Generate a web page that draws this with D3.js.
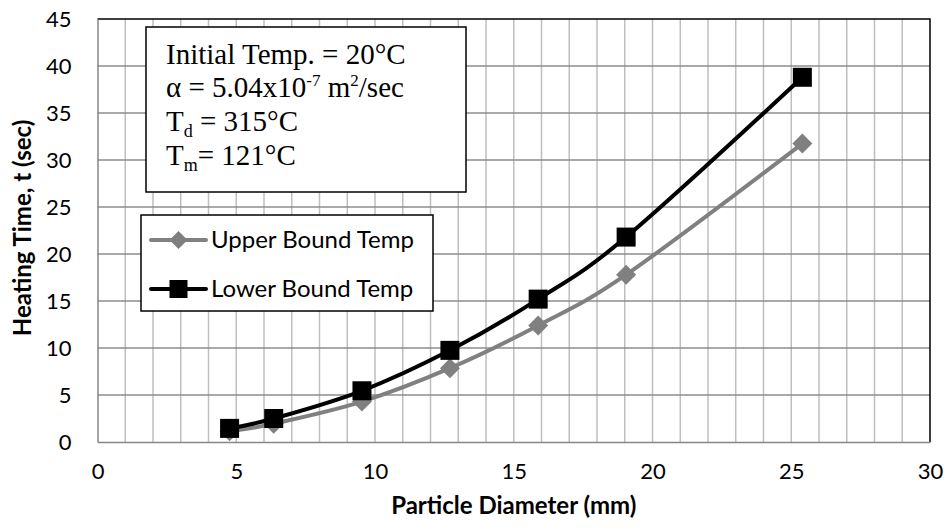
<!DOCTYPE html>
<html>
<head>
<meta charset="utf-8">
<script src="https://cdn.jsdelivr.net/npm/d3@7"></script>
<style>
  html, body { margin: 0; padding: 0; background: #fff; }
  svg { display: block; }
</style>
</head>
<body>
<svg id="chart" width="946" height="532"></svg>
<script>
// Particle diameters (mm) and heating times (s)
const diameters = [4.76, 6.35, 9.53, 12.7, 15.88, 19.05, 25.4];
const upperBound = [1.15, 1.95, 4.3, 7.85, 12.4, 17.8, 31.75];
const lowerBound = [1.45, 2.5, 5.45, 9.75, 15.2, 21.8, 38.8];
const xTicks = [0, 5, 10, 15, 20, 25, 30];
const yTicks = [0, 5, 10, 15, 20, 25, 30, 35, 40, 45];
const seriesNames = ["Upper Bound Temp", "Lower Bound Temp"];

const svg = d3.select("#chart");
const plotL = 97.5, plotR = 930, plotT = 19, plotB = 442;

const x = d3.scaleLinear().domain([0, 30]).range([plotL, plotR]);
const y = d3.scaleLinear().domain([0, 45]).range([plotB, plotT]);

const sans = "Lato, 'Open Sans', sans-serif";

// minor vertical grid every 1 mm
svg.append("g").selectAll("line")
  .data(d3.range(1, 30))
  .join("line")
  .attr("x1", d => x(d)).attr("x2", d => x(d))
  .attr("y1", plotT).attr("y2", plotB)
  .attr("stroke", "#bfbfbf").attr("stroke-width", 1.5);

// horizontal grid
svg.append("g").selectAll("line")
  .data(yTicks.slice(1, -1))
  .join("line")
  .attr("x1", plotL).attr("x2", plotR)
  .attr("y1", d => y(d)).attr("y2", d => y(d))
  .attr("stroke", "#8c8c8c").attr("stroke-width", 1.5);

// plot frame: top and right
svg.append("path")
  .attr("d", `M${plotL},${plotT}H${plotR}V${plotB}`)
  .attr("fill", "none").attr("stroke", "#000").attr("stroke-width", 1.5);

// axes
const xAxis = svg.append("g").attr("transform", `translate(0,${plotB})`)
  .call(d3.axisBottom(x).tickValues(xTicks).tickSize(0).tickPadding(21));
const yAxis = svg.append("g").attr("transform", `translate(${plotL},0)`)
  .call(d3.axisLeft(y).tickValues(yTicks).tickSize(0).tickPadding(26));
[xAxis, yAxis].forEach(g => {
  g.select(".domain").attr("stroke", "#868686").attr("stroke-width", 1.5);
  g.selectAll("text").attr("font-family", sans).attr("font-size", 22).attr("fill", "#000");
});
xAxis.selectAll("text").attr("dy", "0.71em");

// axis titles
svg.append("text")
  .attr("x", (plotL + plotR) / 2).attr("y", 514)
  .attr("text-anchor", "middle")
  .attr("font-family", sans).attr("font-weight", "bold").attr("font-size", 24)
  .text("Particle Diameter (mm)");
svg.append("text")
  .attr("transform", `translate(31,228) rotate(-90)`)
  .attr("text-anchor", "middle")
  .attr("font-family", sans).attr("font-weight", "bold").attr("font-size", 24)
  .text("Heating Time, t (sec)");

// series
const line = d3.line().curve(d3.curveCatmullRom.alpha(0))
  .x(d => x(d[0])).y(d => y(d[1]));
const upperPts = diameters.map((d, i) => [d, upperBound[i]]);
const lowerPts = diameters.map((d, i) => [d, lowerBound[i]]);

const gray = "#808080";
svg.append("path").attr("d", line(upperPts))
  .attr("fill", "none").attr("stroke", gray).attr("stroke-width", 4);
const diamond = s => `M0,${-s}L${s},0L0,${s}L${-s},0Z`;
svg.append("g").selectAll("path")
  .data(upperPts).join("path")
  .attr("transform", d => `translate(${x(d[0])},${y(d[1])})`)
  .attr("d", diamond(10)).attr("fill", gray);

svg.append("path").attr("d", line(lowerPts))
  .attr("fill", "none").attr("stroke", "#000").attr("stroke-width", 4);
svg.append("g").selectAll("rect")
  .data(lowerPts).join("rect")
  .attr("x", d => x(d[0]) - 9.5).attr("y", d => y(d[1]) - 9.5)
  .attr("width", 19).attr("height", 19).attr("fill", "#000");

// parameter box
const pbox = svg.append("g");
pbox.append("rect").attr("x", 146).attr("y", 27).attr("width", 320).attr("height", 165)
  .attr("fill", "#fff").attr("stroke", "#000").attr("stroke-width", 1.5);
const serif = "'Liberation Serif', 'Times New Roman', serif";
const pt = pbox.append("text").attr("font-family", serif).attr("font-size", 29).attr("fill", "#000");
pt.append("tspan").attr("x", 166).attr("y", 64).text("Initial Temp. = 20°C");
pt.append("tspan").attr("x", 166).attr("y", 97).text("α = 5.04x10");
pt.append("tspan").attr("font-size", 17).attr("dy", -11).text("-7");
pt.append("tspan").attr("dy", 11).text(" m");
pt.append("tspan").attr("font-size", 17).attr("dy", -11).text("2");
pt.append("tspan").attr("dy", 11).text("/sec");
pt.append("tspan").attr("x", 166).attr("y", 131).text("T");
pt.append("tspan").attr("font-size", 18).attr("dy", 6).text("d");
pt.append("tspan").attr("dy", -6).text(" = 315°C");
pt.append("tspan").attr("x", 166).attr("y", 165).text("T");
pt.append("tspan").attr("font-size", 18).attr("dy", 6).text("m");
pt.append("tspan").attr("dy", -6).text("= 121°C");

// legend
const leg = svg.append("g");
leg.append("rect").attr("x", 141).attr("y", 215).attr("width", 292).attr("height", 96)
  .attr("fill", "#fff").attr("stroke", "#000").attr("stroke-width", 1.5);
const rowsY = [240, 289];
seriesNames.forEach((name, i) => {
  const g = leg.append("g").attr("transform", `translate(0,${rowsY[i]})`);
  g.append("line").attr("x1", 151).attr("x2", 206).attr("y1", 0).attr("y2", 0)
    .attr("stroke", i === 0 ? gray : "#000").attr("stroke-width", 4).attr("stroke-linecap", "round");
  if (i === 0) {
    g.append("path").attr("transform", "translate(178.5,0)").attr("d", diamond(9)).attr("fill", gray);
  } else {
    g.append("rect").attr("x", 169.5).attr("y", -9).attr("width", 18).attr("height", 18).attr("fill", "#000");
  }
  g.append("text").attr("x", 211).attr("y", 0).attr("dy", "0.35em")
    .attr("font-family", sans).attr("font-size", 24).attr("fill", "#000")
    .text(name);
});
</script>
</body>
</html>
